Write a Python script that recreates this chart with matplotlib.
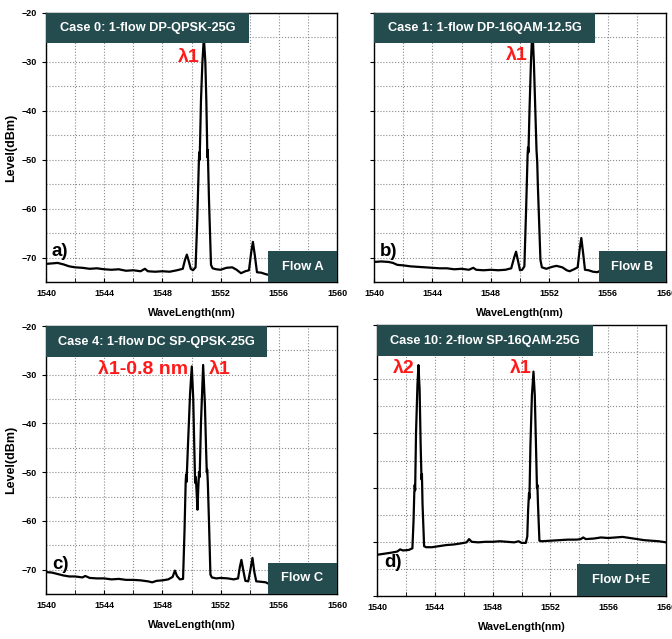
import matplotlib
matplotlib.use('Agg')
import matplotlib.pyplot as plt
from matplotlib.patches import Rectangle
from matplotlib.ticker import MultipleLocator

plt.rcParams['font.family'] = ['Liberation Sans', 'DejaVu Sans']
plt.rcParams['font.weight'] = 'bold'

BOX = '#244B4E'

# ---- spectra (wavelength nm, level dBm) ----
wl_a = [1540.0, 1540.4, 1540.8, 1541.2, 1541.6, 1542.0, 1542.5, 1543.0, 1543.5, 1544.0,
        1544.5, 1545.0, 1545.5, 1546.0, 1546.5, 1546.8, 1547.0, 1547.5, 1548.0, 1548.5,
        1549.0, 1549.4, 1549.55, 1549.68, 1549.8, 1549.95, 1550.1, 1550.28, 1550.4, 1550.5,
        1550.53, 1550.56, 1550.6, 1550.65, 1550.75, 1550.85, 1550.95, 1551.02, 1551.07, 1551.09,
        1551.12, 1551.2, 1551.34, 1551.45, 1551.7, 1552.0, 1552.4, 1552.8, 1553.1, 1553.4,
        1553.7, 1553.95, 1554.1, 1554.22, 1554.35, 1554.5, 1554.8, 1555.1, 1555.4, 1556.0,
        1557.0, 1558.0, 1559.0, 1560.0]
lv_a = [-71.3, -71.2, -71.1, -71.4, -71.8, -72.0, -72.1, -72.3, -72.2, -72.4,
        -72.5, -72.4, -72.7, -72.6, -72.8, -72.3, -72.8, -72.9, -72.8, -72.9,
        -72.6, -72.3, -70.5, -69.4, -70.6, -72.3, -72.6, -72.0, -62.0, -51.0,
        -48.5, -50.0, -45.0, -38.0, -30.0, -25.0, -30.0, -38.0, -46.0, -49.5,
        -48.0, -58.0, -71.5, -72.2, -72.4, -72.5, -72.1, -72.0, -72.5, -73.2,
        -72.8, -72.6, -69.0, -66.8, -69.5, -73.0, -73.1, -73.4, -73.6, -73.5,
        -73.6, -73.5, -73.6, -73.6]

wl_b = [1540.0, 1540.5, 1541.0, 1541.3, 1541.6, 1542.0, 1542.5, 1543.0, 1543.5, 1544.0,
        1544.5, 1545.0, 1545.5, 1546.0, 1546.5, 1546.8, 1547.0, 1547.5, 1548.0, 1548.5,
        1549.0, 1549.4, 1549.6, 1549.73, 1549.85, 1550.0, 1550.15, 1550.3, 1550.42, 1550.52,
        1550.55, 1550.58, 1550.65, 1550.75, 1550.85, 1550.95, 1551.05, 1551.13, 1551.18, 1551.22,
        1551.4, 1551.5, 1551.8, 1552.2, 1552.5, 1552.9, 1553.2, 1553.4, 1553.7, 1553.95,
        1554.08, 1554.2, 1554.32, 1554.45, 1554.7, 1555.0, 1555.3, 1555.6, 1556.0, 1557.0,
        1558.0, 1559.0, 1560.0]
lv_b = [-70.9, -70.8, -70.9, -71.1, -71.5, -71.6, -71.8, -71.9, -72.0, -72.1,
        -72.2, -72.2, -72.4, -72.3, -72.5, -72.1, -72.5, -72.6, -72.5, -72.6,
        -72.5, -72.2, -70.0, -68.8, -70.5, -72.6, -72.5, -71.8, -60.0, -49.0,
        -47.5, -48.5, -40.0, -30.0, -23.0, -30.0, -40.0, -48.0, -50.5, -55.0,
        -70.5, -72.0, -72.3, -71.9, -71.7, -72.0, -72.6, -72.8, -72.4, -72.0,
        -68.5, -66.0, -69.0, -72.5, -72.6, -72.9, -73.0, -72.5, -72.8, -72.9,
        -73.0, -72.9, -73.0]

wl_c = [1540.0, 1540.4, 1540.8, 1541.2, 1541.6, 1542.0, 1542.5, 1542.7, 1543.0, 1543.5,
        1544.0, 1544.5, 1545.0, 1545.5, 1546.0, 1546.5, 1547.0, 1547.3, 1547.6, 1548.0,
        1548.4, 1548.7, 1548.86, 1549.0, 1549.2, 1549.42, 1549.52, 1549.6, 1549.63, 1549.66,
        1549.75, 1549.9, 1550.02, 1550.12, 1550.2, 1550.25, 1550.3, 1550.35, 1550.41, 1550.47,
        1550.52, 1550.56, 1550.65, 1550.8, 1550.92, 1551.0, 1551.05, 1551.08, 1551.12, 1551.2,
        1551.3, 1551.4, 1551.7, 1552.0, 1552.5, 1552.9, 1553.2, 1553.32, 1553.43, 1553.55,
        1553.7, 1553.9, 1554.05, 1554.19, 1554.32, 1554.45, 1554.8, 1555.1, 1555.3, 1556.0,
        1557.0, 1558.0, 1559.0, 1560.0]
lv_c = [-70.5, -70.6, -70.9, -71.2, -71.4, -71.4, -71.6, -71.3, -71.7, -71.8,
        -71.8, -72.0, -71.9, -72.1, -72.1, -72.2, -72.4, -72.6, -72.3, -72.2,
        -72.0, -71.5, -70.2, -71.3, -72.0, -71.9, -62.0, -52.0, -50.5, -52.0,
        -45.0, -34.0, -28.3, -35.0, -46.0, -52.2, -51.0, -54.0, -57.7, -53.0,
        -50.0, -51.0, -40.0, -28.0, -36.0, -45.0, -50.0, -49.5, -52.0, -60.0,
        -71.0, -71.6, -71.8, -71.7, -71.8, -72.0, -71.8, -69.5, -68.0, -70.0,
        -72.3, -72.4, -70.0, -67.6, -70.5, -72.4, -72.5, -72.6, -72.9, -72.7,
        -72.8, -72.7, -72.8, -72.8]

wl_d = [1540.0, 1540.5, 1541.0, 1541.4, 1541.6, 1541.8, 1542.2, 1542.45, 1542.53, 1542.58,
        1542.61, 1542.64, 1542.7, 1542.8, 1542.87, 1542.95, 1543.02, 1543.08, 1543.11, 1543.15,
        1543.26, 1543.4, 1543.8, 1544.3, 1544.8, 1545.3, 1545.8, 1546.2, 1546.37, 1546.55,
        1547.0, 1547.5, 1548.0, 1548.5, 1549.0, 1549.5, 1549.8, 1550.0, 1550.3, 1550.4,
        1550.46, 1550.52, 1550.55, 1550.62, 1550.72, 1550.83, 1550.92, 1551.0, 1551.07, 1551.1,
        1551.14, 1551.24, 1551.4, 1552.0, 1552.6, 1553.2, 1553.8, 1554.1, 1554.27, 1554.45,
        1555.0, 1555.5, 1556.0, 1556.5, 1557.0, 1557.5, 1558.0, 1558.5, 1559.0, 1559.5,
        1560.0]
lv_d = [-72.4, -72.2, -72.0, -71.8, -71.4, -71.6, -71.5, -71.2, -66.0, -61.0,
        -59.5, -60.5, -50.0, -41.0, -37.4, -42.0, -52.0, -58.5, -57.5, -63.0,
        -70.8, -71.0, -71.0, -70.8, -70.6, -70.5, -70.3, -70.1, -69.5, -70.0,
        -70.1, -70.0, -70.0, -69.9, -70.0, -70.1, -69.9, -70.2, -70.2, -69.0,
        -64.0, -61.0, -62.0, -52.0, -43.0, -38.6, -43.0, -52.0, -60.1, -59.5,
        -63.0, -69.8, -69.9, -69.8, -69.7, -69.6, -69.6, -69.5, -69.2, -69.5,
        -69.4, -69.2, -69.3, -69.2, -69.1, -69.3, -69.5, -69.7, -69.8, -69.9,
        -70.1]

titles = ['Case 0: 1-flow DP-QPSK-25G', 'Case 1: 1-flow DP-16QAM-12.5G',
          'Case 4: 1-flow DC SP-QPSK-25G', 'Case 10: 2-flow SP-16QAM-25G']
flows = ['Flow A', 'Flow B', 'Flow C', 'Flow D+E']
letters = ['a)', 'b)', 'c)', 'd)']

W, H = 672.0, 639.0
fig = plt.figure(figsize=(W / 100, H / 100), dpi=100)

def px_axes(x0, x1, ytop, ybot):
    return fig.add_axes([x0 / W, 1 - ybot / H, (x1 - x0) / W, (ybot - ytop) / H])

axa = px_axes(46, 337, 13, 282)
axb = px_axes(374, 666, 13, 282)
axc = px_axes(46, 337, 326, 594)
axd = px_axes(377, 666, 325, 596)

panels = [(axa, wl_a, lv_a, (-75, -20), True, (0.698, 0.112), (0.763, 0.115)),
          (axb, wl_b, lv_b, (-75, -20), False, (0.757, 0.112), (0.77, 0.115)),
          (axc, wl_c, lv_c, (-75, -20), True, (0.76, 0.116), (0.763, 0.116)),
          (axd, wl_d, lv_d, (-80, -30), False, (0.747, 0.115), (0.692, 0.118))]

for i, (ax, wl, lv, ylim, ylab, tbox, fbox) in enumerate(panels):
    ax.plot(wl, lv, color='black', lw=1.6, zorder=3)
    ax.set_xlim(1540, 1560)
    ax.set_ylim(*ylim)
    ax.xaxis.set_major_locator(MultipleLocator(4))
    ax.xaxis.set_minor_locator(MultipleLocator(2))
    ax.yaxis.set_major_locator(MultipleLocator(10))
    ax.yaxis.set_minor_locator(MultipleLocator(5))
    ax.grid(True, which='both', ls=':', color='#8a8a8a', lw=0.8)
    ax.tick_params(axis='x', which='both', direction='in', labelsize=6.5, length=3, pad=5)
    ax.tick_params(axis='y', which='both', direction='out', labelsize=6.5, length=3)
    ax.tick_params(axis='y', which='minor', length=0)
    for lab in ax.get_xticklabels() + ax.get_yticklabels():
        lab.set_fontweight('bold')
    if not ylab:
        ax.set_yticklabels([])
    else:
        ax.set_ylabel('Level(dBm)', fontsize=9, fontweight='bold', labelpad=3)
    ax.set_xlabel('WaveLength(nm)', fontsize=7.8, fontweight='bold', labelpad=7)
    for s in ax.spines.values():
        s.set_linewidth(1.0)
    # title box
    ax.add_patch(Rectangle((0, 1 - tbox[1]), tbox[0], tbox[1], transform=ax.transAxes,
                           facecolor=BOX, edgecolor='none', zorder=5, clip_on=False))
    ax.text(tbox[0] / 2, 1 - tbox[1] / 2, titles[i], transform=ax.transAxes, color='white',
            fontsize=9.2, fontweight='bold', ha='center', va='center', zorder=6)
    # flow box
    ax.add_patch(Rectangle((fbox[0], 0), 1 - fbox[0], fbox[1], transform=ax.transAxes,
                           facecolor=BOX, edgecolor='none', zorder=5, clip_on=False))
    ax.text((1 + fbox[0]) / 2, fbox[1] / 2, flows[i], transform=ax.transAxes, color='white',
            fontsize=9.3, fontweight='bold', ha='center', va='center', zorder=6)

# panel letters
axa.text(1540.4, -68.8, 'a)', fontsize=13.5, fontweight='bold', va='center', zorder=4)
axb.text(1540.4, -68.8, 'b)', fontsize=13.5, fontweight='bold', va='center', zorder=4)
axc.text(1540.4, -69.0, 'c)', fontsize=13.5, fontweight='bold', va='center', zorder=4)
axd.text(1540.5, -73.9, 'd)', fontsize=13.5, fontweight='bold', va='center', zorder=4)

# wavelength labels
red = '#ff1a1a'
lab_kw = dict(color=red, fontsize=14, fontweight='bold', ha='center', va='center', zorder=4)
axa.text(1549.8, -29.0, 'λ1', **lab_kw)
axb.text(1549.8, -28.6, 'λ1', **lab_kw)
axc.text(1546.67, -29.0, 'λ1-0.8 nm', **lab_kw)
axc.text(1551.96, -29.0, 'λ1', **lab_kw)
axd.text(1541.87, -38.0, 'λ2', **lab_kw)
axd.text(1549.97, -38.0, 'λ1', **lab_kw)

fig.savefig('out.png', dpi=100)
